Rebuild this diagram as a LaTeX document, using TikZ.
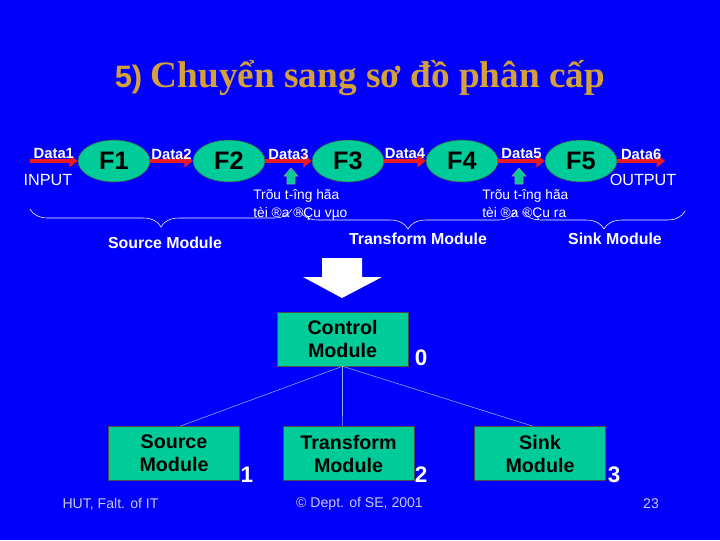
\documentclass[tikz,border=0pt]{standalone}
\usepackage{fontspec}
\setmainfont{Liberation Sans}
\newfontfamily\titleserif{Liberation Serif}
\usetikzlibrary{shapes.geometric,arrows.meta,decorations.pathreplacing}
\definecolor{slideblue}{RGB}{0,0,252}
\definecolor{modgreen}{RGB}{0,204,153}
\definecolor{titlegold}{RGB}{212,160,58}
\definecolor{flowred}{RGB}{235,25,35}
\definecolor{footgray}{RGB}{200,200,225}
\definecolor{treeblue}{RGB}{140,175,255}
\tikzset{
  uptick/.pic={\fill[modgreen,draw=black!40] (-4,0) -- (-4,-8) -- (-7,-8) -- (0,-16) -- (7,-8) -- (4,-8) -- (4,0) -- cycle;}
}

\begin{document}
\begin{tikzpicture}[x=0.025cm,y=-0.025cm,
    func/.style={ellipse,draw=black!70,fill=modgreen,minimum width=1.8cm,minimum height=1.05cm,inner sep=0pt,
      font=\fontsize{18}{18}\selectfont\bfseries},
    flow/.style={flowred,line width=2.8pt,-{Triangle[length=6pt,width=9pt]}},
    datalbl/.style={white,inner sep=0pt,yshift=5pt,font=\fontsize{10.5}{10.5}\selectfont\bfseries},
    io/.style={white,inner sep=0pt,font=\fontsize{11.5}{11.5}\selectfont},
    note/.style={white,inner sep=0pt,align=left,font=\fontsize{9.8}{12.8}\selectfont},
    modlbl/.style={white,inner sep=0pt,font=\fontsize{11.3}{11.3}\selectfont\bfseries},
    modbox/.style={draw=black!70,fill=modgreen,minimum width=3.275cm,minimum height=1.35cm,inner sep=0pt,
      align=center,font=\fontsize{14}{16.4}\selectfont\bfseries},
    digit/.style={white,inner sep=0pt,font=\fontsize{16}{16}\selectfont\bfseries},
    foot/.style={footgray,inner sep=0pt,font=\fontsize{10}{10}\selectfont},
    brc/.style={white,decorate,decoration={brace,mirror,amplitude=0.45cm}}]
  \fill[slideblue] (0,0) rectangle (720,540);
  % title
  \node[titlegold,anchor=base,inner sep=0pt] (title) at (360,87)
    {{\fontsize{22}{22}\selectfont\bfseries 5)}\hspace{6pt}{\titleserif\fontsize{26.5}{26.5}\selectfont\bfseries Chuyển sang sơ đồ phân cấp}};
  % data flow
  \foreach \n/\x in {1/114,2/229,3/348,4/462,5/581}
    \node[func] (f\n) at (\x,161) {F\n};
  \coordinate (in) at (30,161);
  \coordinate (out) at (665,161);
  \draw[flow] (in) -- node[datalbl]{Data1} (f1);
  \foreach \a/\b in {1/2,2/3,3/4,4/5}
    \draw[flow] (f\a) -- node[datalbl]{Data\b} (f\b);
  \draw[flow] (f5) -- node[datalbl]{Data6} (out);
  \node[io] (input) at (48,180) {INPUT};
  \node[io] (output) at (643,180) {OUTPUT};
  \pic at (291,184) {uptick};
  \pic at (519,184) {uptick};
  \node[note,anchor=north west] (absin) at (253,189) {Trõu t-îng hãa\\tèi ®a ®Çu vµo};
  \node[note,anchor=north west] (absout) at (482,189) {Trõu t-îng hãa\\tèi ®a ®Çu ra};
  % braces
  \draw[brc] (30,209) -- (292,209);
  \draw[brc] (300,211) -- (516,211);
  \draw[brc] (523,211) -- (685,211);
  \node[modlbl] (srcmod) at (165,243) {Source Module};
  \node[modlbl] (trfmod) at (418,239) {Transform Module};
  \node[modlbl] (snkmod) at (615,239) {Sink Module};
  % big arrow
  \fill[white] (322,258) -- (362,258) -- (362,277) -- (382,277) -- (342,298) -- (303,277) -- (322,277) -- cycle;
  % structure chart
  \node[modbox] (ctrl) at (342.5,339) {Control\\Module};
  \node[modbox] (src) at (174,453.5) {Source\\Module};
  \node[modbox] (trf) at (348.5,453.5) {Transform\\Module};
  \node[modbox] (snk) at (540,453.5) {Sink\\Module};
  \node[digit] (d0) at (421,358) {0};
  \node[digit] (d1) at (247,475) {1};
  \node[digit] (d2) at (421,475) {2};
  \node[digit] (d3) at (614,475) {3};
  \draw[treeblue] (ctrl.south) -- ([xshift=4.3pt]src.north);
  \draw[treeblue] (ctrl.south) -- ([xshift=-4.3pt]trf.north);
  \draw[treeblue] (ctrl.south) -- ([xshift=-5pt]snk.north);
  % footer
  \node[foot] (hut) at (110.5,504) {HUT, Falt. of IT};
  \node[foot] (dept) at (359.5,504) {© Dept. of SE, 2001};
  \node[foot] (page) at (651,504) {23};
\end{tikzpicture}
\end{document}
